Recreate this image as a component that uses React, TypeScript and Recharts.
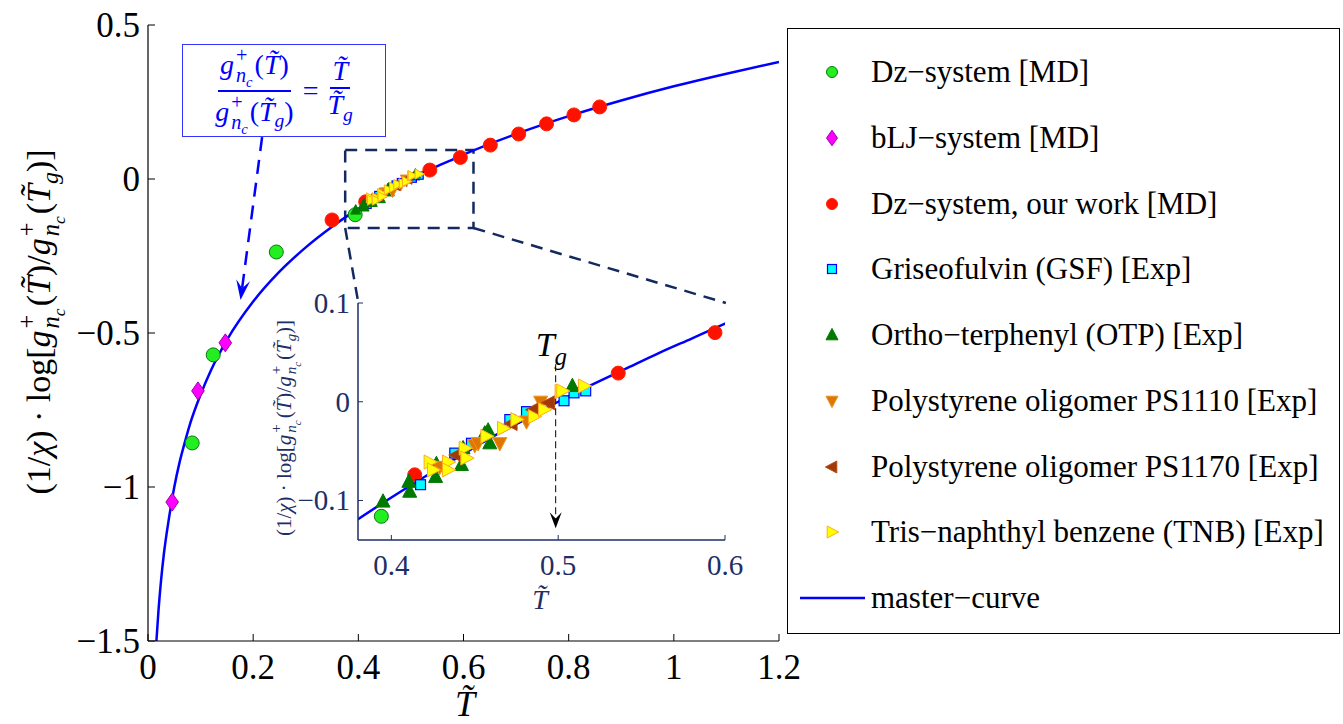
import React from "react";
import {
  ComposedChart,
  Scatter,
  Line,
  XAxis,
  YAxis,
  ReferenceArea,
  ReferenceLine,
} from "recharts";

// master curve
const curveT = [
  0.016, 0.02, 0.025, 0.03, 0.04, 0.05, 0.06, 0.07, 0.08, 0.1, 0.12, 0.15, 0.2,
  0.25, 0.3, 0.35, 0.38, 0.4, 0.42, 0.44, 0.46, 0.48, 0.5, 0.52, 0.54, 0.56,
  0.58, 0.6, 0.7, 0.8, 0.9, 1.0, 1.1, 1.2,
];
const curveY = [
  -1.5, -1.4, -1.3, -1.22, -1.1, -1.0, -0.92, -0.855, -0.795, -0.7, -0.62,
  -0.523, -0.398, -0.301, -0.222, -0.155, -0.119, -0.097, -0.076, -0.056,
  -0.036, -0.018, 0, 0.017, 0.033, 0.049, 0.064, 0.079, 0.146, 0.204, 0.255,
  0.301, 0.342, 0.38,
];

// [T, value]
const dzMD = [[0.084, -0.857], [0.124, -0.571], [0.244, -0.237], [0.394, -0.116]];
const bljMD = [[0.046, -1.049], [0.095, -0.688], [0.147, -0.532]];
const dzOurs = [
  [0.35, -0.133], [0.414, -0.074], [0.536, 0.029], [0.594, 0.07], [0.651, 0.11],
  [0.705, 0.146], [0.758, 0.179], [0.81, 0.208], [0.859, 0.234],
];
const gsf = [
  [0.4175, -0.084], [0.438, -0.052], [0.448, -0.042], [0.471, -0.018],
  [0.481, -0.01], [0.5035, 0.001], [0.5095, 0.009], [0.5165, 0.011],
];
const otp = [
  [0.395, -0.101], [0.4105, -0.081], [0.411, -0.091], [0.4265, -0.076],
  [0.427, -0.063], [0.442, -0.064], [0.443, -0.047], [0.456, -0.032],
  [0.458, -0.029], [0.459, -0.042], [0.5085, 0.016],
];
const ps1110 = [
  [0.429, -0.066], [0.45, -0.044], [0.452, -0.042], [0.465, -0.042],
  [0.481, -0.02], [0.4895, 0.0],
];
const ps1170 = [[0.439, -0.054], [0.472, -0.022], [0.485, -0.008], [0.4945, -0.001]];
const tnb = [
  [0.423, -0.061], [0.425, -0.069], [0.434, -0.061], [0.434, -0.069],
  [0.444, -0.047], [0.445, -0.057], [0.457, -0.035], [0.467, -0.027],
  [0.475, -0.018], [0.4855, -0.015], [0.4915, -0.008], [0.5015, 0.0105],
  [0.5025, 0.011], [0.5155, 0.016],
];

const mainXTicks = [0, 0.2, 0.4, 0.6, 0.8, 1, 1.2];
const mainYTicks = [-1.5, -1, -0.5, 0, 0.5];
const insetXTicks = [0.4, 0.5, 0.6];
const insetYTicks = [-0.1, 0, 0.1];

const F = "'Liberation Serif', 'Times New Roman', serif";
const NAVY = "#1c2f66";
const BOX = "#142a5f";

type Kind = "circle" | "diamond" | "square" | "up" | "down" | "left" | "right";

const series = [
  { name: "Dz\u2212system [MD]", data: dzMD, kind: "circle", fill: "#22ee22", stroke: "#0b7a0b", main: 14, inset: 14, leg: 11 },
  { name: "bLJ\u2212system [MD]", data: bljMD, kind: "diamond", fill: "#ff00ff", stroke: "#9a00b0", main: 15, inset: 15, leg: 13 },
  { name: "Dz\u2212system, our work [MD]", data: dzOurs, kind: "circle", fill: "#ff1100", stroke: "#ff2200", main: 14, inset: 14, leg: 11 },
  { name: "Griseofulvin (GSF) [Exp]", data: gsf, kind: "square", fill: "#00ffff", stroke: "#0000ff", main: 8, inset: 11, leg: 10 },
  { name: "Ortho\u2212terphenyl (OTP) [Exp]", data: otp, kind: "up", fill: "#007a00", stroke: "#007a00", main: 10, inset: 14, leg: 12 },
  { name: "Polystyrene oligomer PS1110 [Exp]", data: ps1110, kind: "down", fill: "#dd7700", stroke: "#f09020", main: 10, inset: 14, leg: 12 },
  { name: "Polystyrene oligomer PS1170 [Exp]", data: ps1170, kind: "left", fill: "#a03a08", stroke: "#b84a10", main: 10, inset: 14, leg: 12 },
  { name: "Tris\u2212naphthyl benzene (TNB) [Exp]", data: tnb, kind: "right", fill: "#ffff00", stroke: "#ffaa22", main: 10, inset: 14, leg: 12 },
];

const toPts = (d: number[][]) => d.map(([x, y]) => ({ x, y }));
const curve = curveT.map((x, i) => ({ x, y: curveY[i] }));

function drawMarker(kind: Kind, cx: number, cy: number, s: number, fill: string, stroke: string) {
  const h = s / 2;
  switch (kind) {
    case "circle":
      return <circle cx={cx} cy={cy} r={h} fill={fill} stroke={stroke} strokeWidth={1} />;
    case "square":
      return <rect x={cx - h * 0.9} y={cy - h * 0.9} width={s * 0.9} height={s * 0.9} fill={fill} stroke={stroke} strokeWidth={1.2} />;
    case "diamond":
      return <polygon points={`${cx},${cy - s * 0.6} ${cx + s * 0.42},${cy} ${cx},${cy + s * 0.6} ${cx - s * 0.42},${cy}`} fill={fill} stroke={stroke} strokeWidth={1} />;
    case "up":
      return <polygon points={`${cx},${cy - h * 1.1} ${cx + h},${cy + h * 0.8} ${cx - h},${cy + h * 0.8}`} fill={fill} stroke={stroke} strokeWidth={1} />;
    case "down":
      return <polygon points={`${cx},${cy + h * 1.1} ${cx + h},${cy - h * 0.8} ${cx - h},${cy - h * 0.8}`} fill={fill} stroke={stroke} strokeWidth={1} />;
    case "left":
      return <polygon points={`${cx - h * 1.1},${cy} ${cx + h * 0.8},${cy - h} ${cx + h * 0.8},${cy + h}`} fill={fill} stroke={stroke} strokeWidth={1} />;
    default:
      return <polygon points={`${cx + h * 1.1},${cy} ${cx - h * 0.8},${cy - h} ${cx - h * 0.8},${cy + h}`} fill={fill} stroke={stroke} strokeWidth={1} />;
  }
}

const fmt = (v: number) => (v < 0 ? "\u2212" + String(-v) : String(v));

const bottomTick = (len: number, dy: number, size: number, color: string) => (p: any) => (
  <g>
    <line x1={p.x} y1={p.y} x2={p.x} y2={p.y - len} stroke={color} strokeWidth={1} />
    <text x={p.x} y={p.y + dy} textAnchor="middle" fontSize={size} fontFamily={F} fill={color}>
      {fmt(p.payload.value)}
    </text>
  </g>
);
const leftTick = (len: number, dx: number, size: number, color: string) => (p: any) => (
  <g>
    <line x1={p.x} y1={p.y} x2={p.x + len} y2={p.y} stroke={color} strokeWidth={1} />
    <text x={p.x - dx} y={p.y + size * 0.34} textAnchor="end" fontSize={size} fontFamily={F} fill={color}>
      {fmt(p.payload.value)}
    </text>
  </g>
);
const topTick = (len: number, color: string) => (p: any) => (
  <line x1={p.x} y1={p.y} x2={p.x} y2={p.y + len} stroke={color} strokeWidth={1} />
);
const rightTick = (len: number, color: string) => (p: any) => (
  <line x1={p.x} y1={p.y} x2={p.x - len} y2={p.y} stroke={color} strokeWidth={1} />
);

const arrowShape =
  (color: string, dash: string, width: number, headLen: number, headHalf: number, label?: boolean) =>
  (p: any) => {
    const { x1, y1, x2, y2 } = p;
    const dx = x2 - x1;
    const dy = y2 - y1;
    const L = Math.hypot(dx, dy) || 1;
    const ux = dx / L;
    const uy = dy / L;
    const nx = -uy;
    const ny = ux;
    const bx = x2 - ux * headLen;
    const by = y2 - uy * headLen;
    const notch = headLen * 0.6;
    return (
      <g>
        <line x1={x1} y1={y1} x2={x2 - ux * notch} y2={y2 - uy * notch} stroke={color} strokeWidth={width} strokeDasharray={dash} />
        <polygon
          points={`${x2},${y2} ${bx + nx * headHalf},${by + ny * headHalf} ${x2 - ux * notch},${y2 - uy * notch} ${bx - nx * headHalf},${by - ny * headHalf}`}
          fill={color}
        />
        {label && (
          <text x={x1 - 20} y={y1 - 8} fontFamily={F} fontSize={34} fontStyle="italic" fill="#000">
            T<tspan fontSize={25} dy={9}>g</tspan>
          </text>
        )}
      </g>
    );
  };

const Tt = () => <i>T&#x0303;</i>;

const SupSub = ({ sup, sub }: { sup: React.ReactNode; sub: React.ReactNode }) => (
  <span style={{ display: "inline-flex", flexDirection: "column", verticalAlign: "middle", fontSize: "0.72em", lineHeight: 1, margin: "0 2px" }}>
    <span>{sup}</span>
    <span>{sub}</span>
  </span>
);

const Gnc = () => (
  <>
    <i>g</i>
    <SupSub sup="+" sub={<><i>n</i><sub style={{ fontSize: "0.72em", lineHeight: 1 }}><i>c</i></sub></>} />
  </>
);

const Frac = ({ num, den }: { num: React.ReactNode; den: React.ReactNode }) => (
  <span style={{ display: "inline-flex", flexDirection: "column", alignItems: "center", verticalAlign: "middle" }}>
    <span style={{ borderBottom: "2px solid #0000ff", padding: "0 2px", lineHeight: 1.15 }}>{num}</span>
    <span style={{ lineHeight: 1.15 }}>{den}</span>
  </span>
);

const YLabel = ({ left, top, size, color }: { left: number; top: number; size: number; color: string }) => (
  <div
    style={{
      position: "absolute",
      left,
      top,
      transform: "translate(-50%, -50%) rotate(-90deg)",
      whiteSpace: "nowrap",
      fontFamily: F,
      fontSize: size,
      color,
    }}
  >
    (1/<i>χ</i>) · log[<Gnc />(<Tt />)/<Gnc />(<Tt /><sub style={{ fontSize: "0.7em" }}><i>g</i></sub>)]
  </div>
);

function MainChart() {
  return (
    <ComposedChart width={820} height={724} margin={{ top: 25, right: 41, bottom: 0, left: 0 }}>
      <XAxis type="number" dataKey="x" domain={[0, 1.2]} ticks={mainXTicks} interval={0} allowDataOverflow height={83}
        tickSize={0} tickMargin={0} tickLine={false} axisLine={{ stroke: "#000", strokeWidth: 1.2 }} tick={bottomTick(7, 38, 35, "#000")} />
      <XAxis xAxisId="top" orientation="top" type="number" dataKey="x" domain={[0, 1.2]} ticks={mainXTicks} interval={0} allowDataOverflow height={0}
        tickSize={0} tickMargin={0} tickLine={false} axisLine={{ stroke: "#000", strokeWidth: 1.2 }} tick={topTick(7, "#000")} />
      <YAxis type="number" dataKey="y" domain={[-1.5, 0.5]} ticks={mainYTicks} interval={0} allowDataOverflow width={148}
        tickSize={0} tickMargin={0} tickLine={false} axisLine={{ stroke: "#000", strokeWidth: 1.2 }} tick={leftTick(7, 8, 35, "#000")} />
      <YAxis yAxisId="right" orientation="right" type="number" dataKey="y" domain={[-1.5, 0.5]} ticks={mainYTicks} interval={0} allowDataOverflow width={0}
        tickSize={0} tickMargin={0} tickLine={false} axisLine={{ stroke: "#000", strokeWidth: 1.2 }} tick={rightTick(7, "#000")} />

      <ReferenceArea x1={0.375} x2={0.619} y1={-0.159} y2={0.094} fill="none" fillOpacity={0} stroke={BOX} strokeWidth={2.5} strokeDasharray="12 8" />
      <ReferenceLine segment={[{ x: 0.375, y: -0.159 }, { x: 0.4, y: -0.4026 }]} stroke={BOX} strokeWidth={2.5} strokeDasharray="12 8" />
      <ReferenceLine segment={[{ x: 0.619, y: -0.159 }, { x: 1.099, y: -0.4026 }]} stroke={BOX} strokeWidth={2.5} strokeDasharray="12 8" />
      <ReferenceLine segment={[{ x: 0.217, y: 0.136 }, { x: 0.176, y: -0.393 }]} shape={arrowShape("#0000ff", "14 9", 2.5, 20, 7)} />

      {series.map((s) => (
        <Scatter key={s.name} name={s.name} data={toPts(s.data)} isAnimationActive={false}
          shape={(p: any) => drawMarker(s.kind as Kind, p.cx, p.cy, s.main, s.fill, s.stroke)} />
      ))}
      <Line data={curve} dataKey="y" type="monotone" stroke="#0000ff" strokeWidth={2.5} dot={false} isAnimationActive={false} />
    </ComposedChart>
  );
}

function InsetChart() {
  const inDomain = (d: number[][]) => toPts(d.filter(([x, y]) => x >= 0.38 && x <= 0.6 && y >= -0.14 && y <= 0.1));
  return (
    <ComposedChart width={520} height={340} margin={{ top: 23, right: 45, bottom: 0, left: 0 }}>
      <XAxis type="number" dataKey="x" domain={[0.38, 0.6]} ticks={insetXTicks} interval={0} allowDataOverflow height={80}
        tickSize={0} tickMargin={0} tickLine={false} axisLine={{ stroke: NAVY, strokeWidth: 1.5 }} tick={bottomTick(5, 35, 29, NAVY)} />
      <XAxis xAxisId="top" orientation="top" type="number" dataKey="x" domain={[0.38, 0.6]} ticks={insetXTicks} interval={0} allowDataOverflow height={0}
        tickSize={0} tickMargin={0} tickLine={false} axisLine={{ stroke: NAVY, strokeWidth: 1.5 }} tick={topTick(5, NAVY)} />
      <YAxis type="number" dataKey="y" domain={[-0.14, 0.1]} ticks={insetYTicks} interval={0} allowDataOverflow width={108}
        tickSize={0} tickMargin={0} tickLine={false} axisLine={{ stroke: NAVY, strokeWidth: 1.5 }} tick={leftTick(5, 8, 29, NAVY)} />
      <YAxis yAxisId="right" orientation="right" type="number" dataKey="y" domain={[-0.14, 0.1]} ticks={insetYTicks} interval={0} allowDataOverflow width={0}
        tickSize={0} tickMargin={0} tickLine={false} axisLine={{ stroke: NAVY, strokeWidth: 1.5 }} tick={rightTick(5, NAVY)} />

      <ReferenceLine segment={[{ x: 0.4985, y: 0.038 }, { x: 0.4985, y: -0.128 }]} shape={arrowShape("#000", "7 4", 1, 16, 6, true)} />

      {series.map((s) => (
        <Scatter key={s.name} name={s.name} data={inDomain(s.data)} isAnimationActive={false}
          shape={(p: any) => drawMarker(s.kind as Kind, p.cx, p.cy, s.inset, s.fill, s.stroke)} />
      ))}
      <Line data={curve} dataKey="y" type="monotone" stroke="#0000ff" strokeWidth={2.5} dot={false} isAnimationActive={false} />
    </ComposedChart>
  );
}

export default function App() {
  return (
    <div style={{ position: "absolute", left: 0, top: 0, width: 1343, height: 724, background: "#fff", fontFamily: F, overflow: "hidden" }}>
      <div style={{ position: "absolute", left: 0, top: 0 }}>
        <MainChart />
      </div>

      <YLabel left={42} top={322} size={34} color="#000" />
      <div style={{ position: "absolute", left: 465, top: 704, transform: "translate(-50%, -50%)", fontSize: 36, lineHeight: 1 }}>
        <Tt />
      </div>

      {/* formula box */}
      <div
        style={{
          position: "absolute", left: 182, top: 44, width: 204, height: 93,
          border: "1.5px solid #3333ff", boxSizing: "border-box", color: "#0000ff",
          fontSize: 28, display: "flex", alignItems: "center", justifyContent: "center", gap: 9, background: "#fff",
          whiteSpace: "nowrap",
        }}
      >
        <Frac num={<><Gnc />(<Tt />)</>} den={<><Gnc />(<Tt /><sub style={{ fontSize: "0.7em" }}><i>g</i></sub>)</>} />
        <span>=</span>
        <Frac num={<Tt />} den={<><Tt /><sub style={{ fontSize: "0.7em" }}><i>g</i></sub></>} />
      </div>

      <div style={{ position: "absolute", left: 250, top: 280 }}>
        <InsetChart />
      </div>
      <YLabel left={286} top={428} size={21} color={NAVY} />
      <div style={{ position: "absolute", left: 540, top: 600, transform: "translate(-50%, -50%)", fontSize: 28, lineHeight: 1.1, color: NAVY }}>
        <Tt />
      </div>

      {/* legend */}
      <div
        style={{
          position: "absolute", left: 787, top: 28, width: 553, height: 606,
          border: "1.5px solid #000", boxSizing: "border-box", fontSize: 31, background: "#fff",
        }}
      >
        {series.map((s, i) => (
          <div key={s.name} style={{ position: "absolute", left: 0, top: 43 + i * 65.75 - 20, height: 40, width: 550 }}>
            <svg width={80} height={40} style={{ position: "absolute", left: 0, top: 0 }}>
              {drawMarker(s.kind as Kind, 44, 20, s.leg, s.fill, s.stroke)}
            </svg>
            <span style={{ position: "absolute", left: 83, top: 0, lineHeight: "40px", whiteSpace: "nowrap" }}>{s.name}</span>
          </div>
        ))}
        <div style={{ position: "absolute", left: 0, top: 43 + 8 * 65.75 - 20, height: 40, width: 550 }}>
          <svg width={80} height={40} style={{ position: "absolute", left: 0, top: 0 }}>
            <line x1={12} y1={20} x2={77} y2={20} stroke="#0000ff" strokeWidth={2.5} />
          </svg>
          <span style={{ position: "absolute", left: 83, top: 0, lineHeight: "40px", whiteSpace: "nowrap" }}>master{"\u2212"}curve</span>
        </div>
      </div>
    </div>
  );
}
